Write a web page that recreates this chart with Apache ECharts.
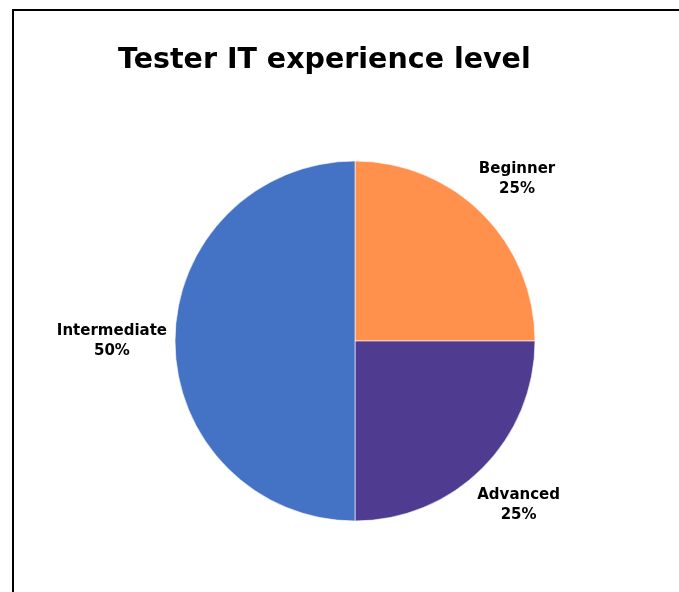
<!DOCTYPE html>
<html>
<head>
<meta charset="utf-8">
<script src="https://cdn.jsdelivr.net/npm/echarts@6/dist/echarts.min.js"></script>
<style>
html,body{margin:0;padding:0;background:#fff;}
#main{width:679px;height:592px;}
</style>
</head>
<body>
<div id="main"></div>
<script>
const titleText = 'Tester IT experience level';
const categories = ['Beginner', 'Advanced', 'Intermediate'];
const values = [25, 25, 50];
const colors = ['#FF914D', '#4F3B8F', '#4472C4'];

const CX = 355, CY = 341, R = 180, GAP = 8;
const total = values.reduce((a, b) => a + b, 0);
const midAngles = [];
let acc = 0;
values.forEach(v => {
  const mid = 90 - (acc + v / 2) / total * 360;
  midAngles.push(mid * Math.PI / 180);
  acc += v;
});

const chart = echarts.init(document.getElementById('main'));
chart.setOption({
  backgroundColor: '#fff',
  animation: false,
  title: {
    text: titleText,
    left: 113,
    top: 41,
    textStyle: { fontFamily: 'DejaVu Sans', fontWeight: 'bold', fontSize: 28.5, color: '#000' }
  },
  graphic: [{
    type: 'rect',
    shape: { x: 13, y: 10, width: 700, height: 700 },
    style: { fill: 'none', stroke: '#000', lineWidth: 2 },
    silent: true
  }],
  series: [{
    type: 'pie',
    center: [CX, CY],
    radius: [0, R],
    startAngle: 90,
    clockwise: true,
    data: categories.map((c, i) => ({ name: c, value: values[i], itemStyle: { color: colors[i] } })),
    itemStyle: { borderColor: 'rgba(255,255,255,0.6)', borderWidth: 1 },
    label: {
      show: true,
      position: 'outside',
      formatter: p => p.name + '\n' + Math.round(p.percent) + '%',
      fontFamily: 'DejaVu Sans',
      fontWeight: 'bold',
      fontSize: 15,
      lineHeight: 20,
      color: '#000'
    },
    labelLine: { show: false },
    labelLayout: function (params) {
      const a = midAngles[params.dataIndex];
      const ux = Math.cos(a), uy = -Math.sin(a);
      const w = params.labelRect.width, h = params.labelRect.height;
      const ext = Math.abs(ux) * w / 2 + Math.abs(uy) * h / 2;
      const d = R + GAP + ext;
      return { x: CX + ux * d, y: CY + uy * d, align: 'center', verticalAlign: 'middle' };
    }
  }]
});
</script>
</body>
</html>
